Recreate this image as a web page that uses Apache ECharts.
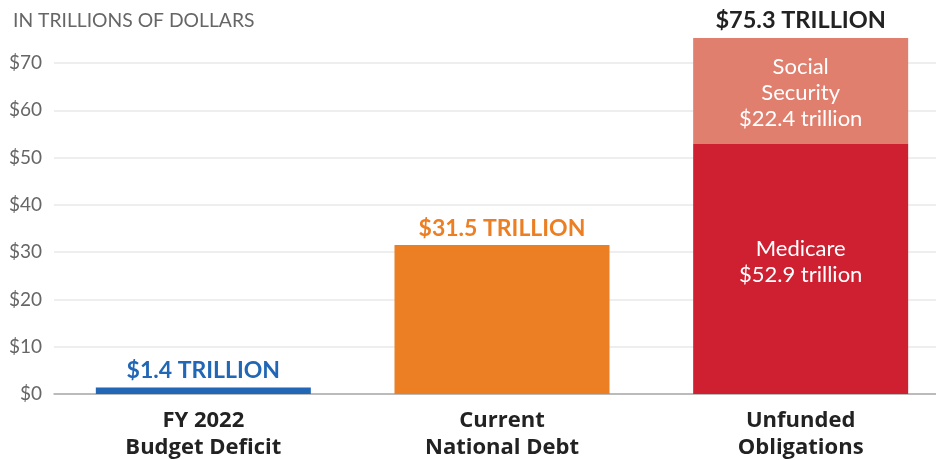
<!DOCTYPE html>
<html><head><meta charset="utf-8">
<script src="https://cdn.jsdelivr.net/npm/echarts@6/dist/echarts.min.js"></script>
<style>html,body{margin:0;padding:0;background:#fff}#c{width:936px;height:460px}</style>
</head><body><div id="c"></div>
<script>
const categories = ['FY 2022\nBudget Deficit', 'Current\nNational Debt', 'Unfunded\nObligations'];
const baseValues = [1.4, 31.5, 52.9];
const socialSecurity = [null, null, 22.4];
const totalLabels = ['$1.4 TRILLION', '$31.5 TRILLION', '$75.3 TRILLION'];
const baseColors = ['#2167b5', '#ec7f24', '#cf2032'];
const labelColors = ['#2167b5', '#ec7f24', '#222222'];
const yTicks = [0, 10, 20, 30, 40, 50, 60, 70];

const FONT = 'Lato';
const chart = echarts.init(document.getElementById('c'));
chart.setOption({
  animation: false,
  title: { text: 'IN TRILLIONS OF DOLLARS', left: 8, top: 6,
    textStyle: { fontFamily: FONT, fontSize: 19.3, fontWeight: 'normal', color: '#666' } },
  grid: { left: 54, right: -14, top: 38, bottom: 66, outerBoundsMode: 'none', containLabel: false },
  xAxis: { type: 'category', data: categories,
    axisLine: { lineStyle: { color: '#aaa', width: 1.5 } }, axisTick: { show: false },
    axisLabel: { fontFamily: 'Open Sans', fontSize: 22, fontWeight: 'bold', color: '#222', lineHeight: 27, margin: 13 } },
  yAxis: { type: 'value', min: 0, max: 75.3, interval: 10,
    axisLabel: { fontFamily: FONT, fontSize: 19, color: '#666', margin: 12,
      customValues: yTicks, formatter: v => '$' + v },
    axisTick: { show: false }, axisLine: { show: false },
    splitLine: { showMaxLine: false, lineStyle: { color: '#e8e8e8', width: 1.5 } } },
  series: [
    { type: 'bar', stack: 'total', barWidth: 215,
      data: baseValues.map((v, i) => ({ value: v, itemStyle: { color: baseColors[i] },
        label: i < 2 ? { show: true, position: 'top', formatter: totalLabels[i], color: labelColors[i],
          fontFamily: FONT, fontSize: 23, fontWeight: 'bold', distance: 5 }
          : { show: true, position: 'inside', offset: [0, -7], formatter: 'Medicare\n$52.9 trillion',
          color: '#fff', fontFamily: FONT, fontSize: 22, lineHeight: 26 } })) },
    { type: 'bar', stack: 'total', barWidth: 215,
      data: socialSecurity.map((v, i) => v == null ? null : ({ value: v, itemStyle: { color: '#e07f6e' } })),
      label: { show: true, position: 'inside', offset: [0, 2], formatter: 'Social\nSecurity\n$22.4 trillion',
        color: '#fff', fontFamily: FONT, fontSize: 22, lineHeight: 26 } },
    { type: 'bar', stack: 'total', barWidth: 215, silent: true,
      data: [null, null, 0], itemStyle: { color: 'transparent' },
      label: { show: true, position: 'top', formatter: totalLabels[2], color: labelColors[2],
        fontFamily: FONT, fontSize: 23.5, fontWeight: 'bold', distance: 6 } }
  ]
});
</script></body></html>
